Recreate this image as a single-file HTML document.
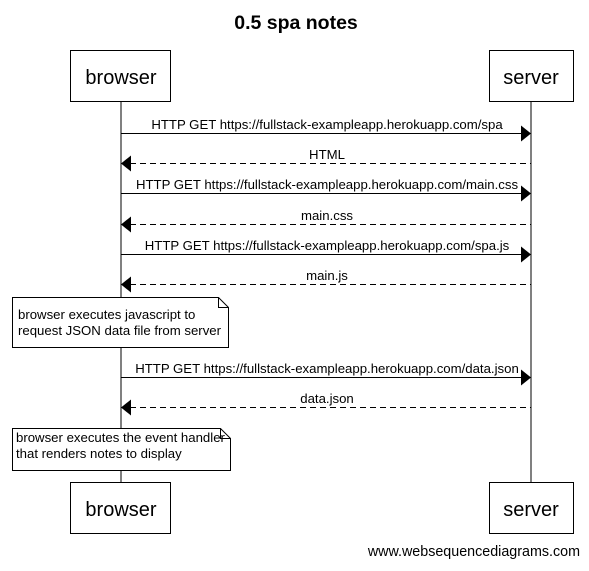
<!DOCTYPE html>
<html><head><style>body{margin:0;background:#fff}</style></head><body>
<svg width="589" height="566" xmlns="http://www.w3.org/2000/svg" font-family="Liberation Sans, sans-serif">
<rect width="589" height="566" fill="#fff"/>
<text x="296" y="29" font-size="19.5" font-weight="bold" text-anchor="middle">0.5 spa notes</text>
<g stroke="#000" stroke-width="1" fill="none">
<line x1="121" y1="102" x2="121" y2="482"/>
<line x1="531" y1="102" x2="531" y2="482"/>
<rect x="70.5" y="50.5" width="100" height="51" fill="#fff"/>
<rect x="489.5" y="50.5" width="84" height="51" fill="#fff"/>
<rect x="70.5" y="482.5" width="100" height="51" fill="#fff"/>
<rect x="489.5" y="482.5" width="84" height="51" fill="#fff"/>
<line x1="121" y1="133.5" x2="522" y2="133.5"/>
<line x1="130" y1="163.5" x2="531" y2="163.5" stroke-dasharray="6,4"/>
<line x1="121" y1="193.5" x2="522" y2="193.5"/>
<line x1="130" y1="224.5" x2="531" y2="224.5" stroke-dasharray="6,4"/>
<line x1="121" y1="254.5" x2="522" y2="254.5"/>
<line x1="130" y1="284.5" x2="531" y2="284.5" stroke-dasharray="6,4"/>
<line x1="121" y1="377.5" x2="522" y2="377.5"/>
<line x1="130" y1="407.5" x2="531" y2="407.5" stroke-dasharray="6,4"/>
<path d="M12.5 297.5 H218.5 L228.5 307.5 V347.5 H12.5 Z M218.5 297.5 V307.5 H228.5" fill="#fff"/>
<path d="M12.5 428.5 H220.5 L230.5 438.5 V470.5 H12.5 Z M220.5 428.5 V438.5 H230.5" fill="#fff"/>
</g>
<g fill="#000">
<path d="M531 133.5 l-10 -8 v16z"/>
<path d="M121 163.5 l10 -8 v16z"/>
<path d="M531 193.5 l-10 -8 v16z"/>
<path d="M121 224.5 l10 -8 v16z"/>
<path d="M531 254.5 l-10 -8 v16z"/>
<path d="M121 284.5 l10 -8 v16z"/>
<path d="M531 377.5 l-10 -8 v16z"/>
<path d="M121 407.5 l10 -8 v16z"/>
</g>
<g font-size="20" text-anchor="middle">
<text x="121" y="84">browser</text>
<text x="531" y="84">server</text>
<text x="121" y="516">browser</text>
<text x="531" y="516">server</text>
</g>
<g font-size="13.2" text-anchor="middle">
<text x="327" y="129">HTTP GET https://fullstack-exampleapp.herokuapp.com/spa</text>
<text x="327" y="159">HTML</text>
<text x="327" y="189">HTTP GET https://fullstack-exampleapp.herokuapp.com/main.css</text>
<text x="327" y="220">main.css</text>
<text x="327" y="250">HTTP GET https://fullstack-exampleapp.herokuapp.com/spa.js</text>
<text x="327" y="280">main.js</text>
<text x="327" y="373">HTTP GET https://fullstack-exampleapp.herokuapp.com/data.json</text>
<text x="327" y="403">data.json</text>
</g>
<g font-size="13.2">
<text x="18" y="319">browser executes javascript to</text>
<text x="18" y="335">request JSON data file from server</text>
<text x="16" y="442">browser executes the event handler</text>
<text x="16" y="458">that renders notes to display</text>
<text x="580" y="556" font-size="14.3" text-anchor="end">www.websequencediagrams.com</text>
</g>
</svg>
</body></html>
